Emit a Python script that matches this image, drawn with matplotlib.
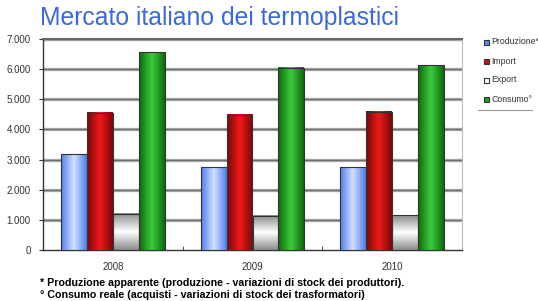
import numpy as np
import matplotlib.pyplot as plt
from matplotlib.colors import LinearSegmentedColormap
from matplotlib.ticker import FuncFormatter

plt.rcParams['font.family'] = ['Liberation Sans', 'DejaVu Sans']

years = ['2008', '2009', '2010']
series = ['Produzione*', 'Import', 'Export', 'Consumo°']
produzione = [3180, 2750, 2750]
import_ = [4560, 4480, 4580]
export = [1200, 1130, 1150]
consumo = [6560, 6040, 6130]
values = [produzione, import_, export, consumo]

# edge colour, centre colour, vertical gradient?
shades = [('#4f7fea', '#d2e0ff', False),
          ('#7a0808', '#f01a1a', False),
          ('#8c8c8c', '#ffffff', True),
          ('#0d6a0d', '#3ccc3c', False)]


def gradient_bar(ax, x, w, h, edge, centre, vertical):
    cmap = LinearSegmentedColormap.from_list('g', [edge, centre, edge])
    grad = np.linspace(0, 1, 64)
    img = grad.reshape(-1, 1) if vertical else grad.reshape(1, -1)
    ax.imshow(img, cmap=cmap, aspect='auto', extent=(x, x + w, 0, h),
              origin='lower', zorder=3, interpolation='bicubic')
    ax.add_patch(plt.Rectangle((x, 0), w, h, fill=False, ec='#333333',
                               lw=0.8, zorder=4))


fig = plt.figure(figsize=(5.38, 3.01), dpi=100)
ax = fig.add_axes([43 / 538, 51 / 301, 419 / 538, 211 / 301])

bw = 0.186
for gi in range(len(years)):
    start = gi - 2 * bw
    for si, vals in enumerate(values):
        edge, centre, vert = shades[si]
        gradient_bar(ax, start + si * bw, bw, vals[gi], edge, centre, vert)

ax.set_xlim(-0.5, 2.5)
ax.set_ylim(0, 7000)
ax.set_yticks(range(0, 7001, 1000))
ax.yaxis.set_major_formatter(FuncFormatter(
    lambda v, p: f'{int(v):,}'.replace(',', '.')))
ax.set_xticks(range(3))
ax.set_xticklabels(years)
ax.set_xticks([0.5, 1.5], minor=True)
ax.tick_params(axis='x', which='major', length=0, pad=9, labelsize=7,
               colors='#333333')
ax.tick_params(axis='x', which='minor', length=3, direction='in',
               color='#333333')
ax.tick_params(axis='y', length=3, direction='out', labelsize=7,
               colors='#333333', pad=6)
ax.set_aspect('auto')

for y in range(1000, 7001, 1000):
    ax.axhline(y, color='#a8a8a8', lw=2.4, zorder=1)
    ax.axhline(y, color='#707070', lw=0.8, zorder=1.5)

for s in ['left', 'bottom']:
    ax.spines[s].set_color('#333333')
    ax.spines[s].set_linewidth(1)
ax.spines['top'].set_color('#666666')
ax.spines['top'].set_linewidth(1.5)
ax.spines['right'].set_color('#bbbbbb')
ax.spines['right'].set_linewidth(0.8)

fig.text(40 / 538, 1 - 18 / 301, 'Mercato italiano dei termoplastici',
         fontsize=17.8, color='#3a6ad6', va='center', ha='left')

# legend
swatches = ['#5a8af0', '#d01010', '#ffffff', '#20a020']
for i, name in enumerate(series):
    y = 1 - (42 + i * 19) / 301
    fig.patches.append(plt.Rectangle((484 / 538, y - 0.009), 5 / 538,
                                     5 / 301, transform=fig.transFigure,
                                     fc=swatches[i], ec='#333333', lw=0.8))
    fig.text(491 / 538, y, name, fontsize=6.3, va='center', ha='left',
             color='#333333')
fig.add_artist(plt.Line2D([478 / 538, 532 / 538],
                          [1 - 110 / 301, 1 - 110 / 301], color='#999999',
                          lw=0.8))

fig.text(40 / 538, 1 - 283 / 301,
         '* Produzione apparente (produzione - variazioni di stock dei '
         'produttori).', fontsize=7.7, fontweight='bold', va='center')
fig.text(40 / 538, 1 - 295 / 301,
         '° Consumo reale (acquisti - variazioni di stock dei '
         'trasformatori)', fontsize=7.7, fontweight='bold', va='center')

fig.savefig('out.png', dpi=100)
